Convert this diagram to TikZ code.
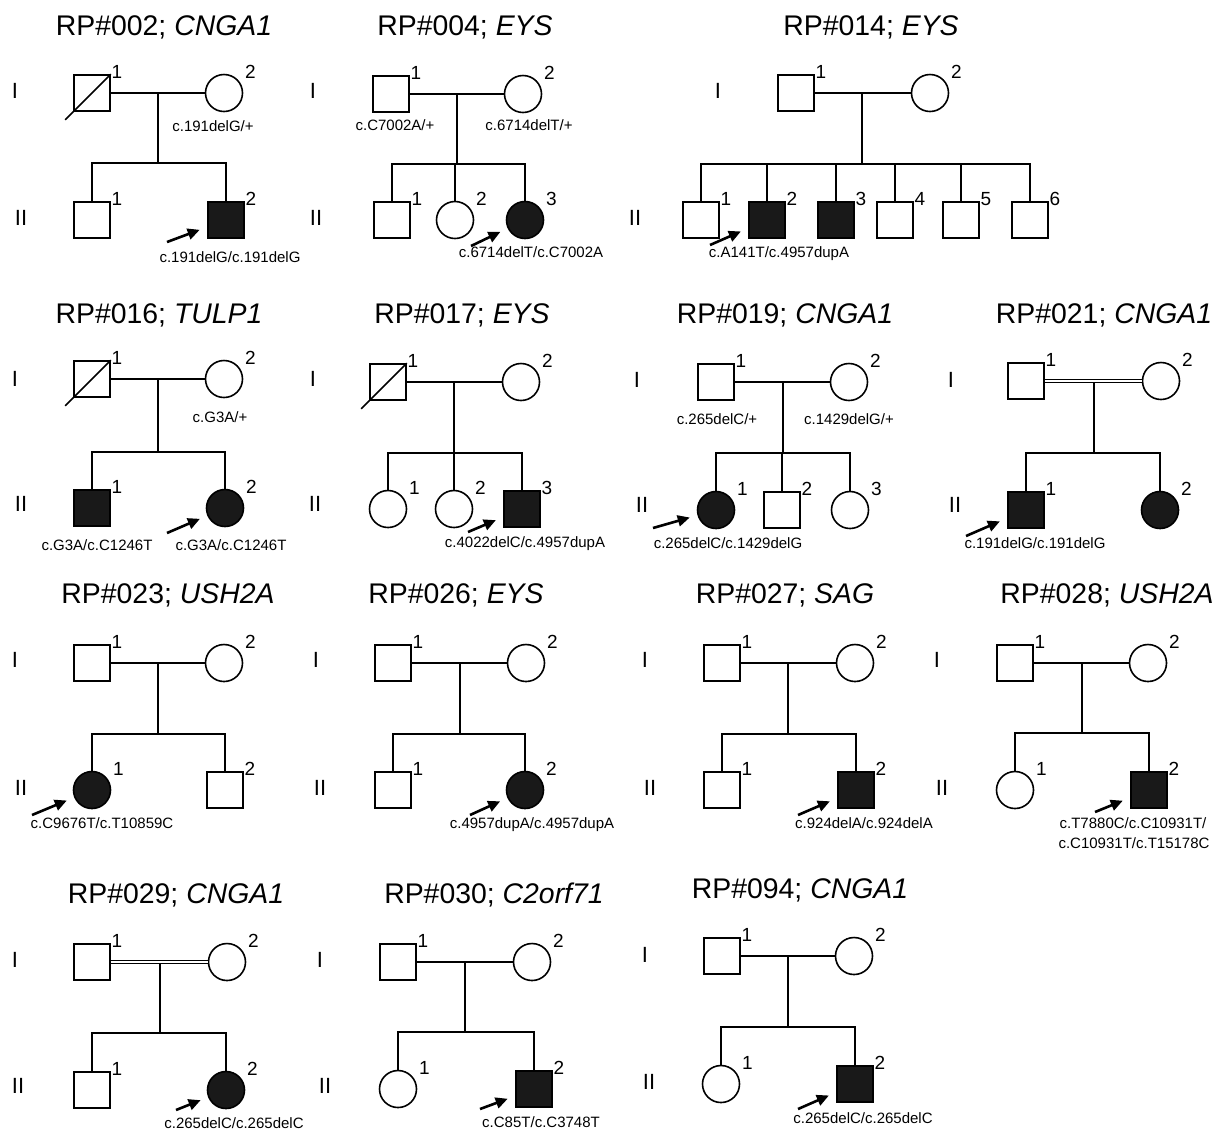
\documentclass[tikz,border=0pt]{standalone}
\usepackage{fontspec}
\setmainfont{Liberation Sans}
\usetikzlibrary{arrows.meta}
\tikzset{
    male/.style={draw, rectangle, minimum size=18pt, inner sep=0pt, label={[idx]north east:#1}},
    female/.style={draw, circle, minimum size=18.5pt, inner sep=0pt, label={[idxf]north east:#1}},
    aff/.style={fill=black!90},
    idx/.style={font=\fontsize{9.5}{11}\selectfont, inner sep=0pt, anchor=south west, yshift=-2.5pt},
    idxf/.style={font=\fontsize{9.5}{11}\selectfont, inner sep=0pt, anchor=south west, xshift=3.3pt},
    pedtitle/.style={font=\fontsize{14.2}{17}\selectfont, anchor=base, inner sep=0pt},
    gen/.style={font=\fontsize{11}{13}\selectfont, anchor=base, inner sep=0pt},
    geno/.style={font=\fontsize{7.5}{9}\selectfont, anchor=base, inner sep=0pt},
    proband/.style={-{Triangle[length=6pt,width=5.5pt]}, line width=1.3pt, shorten >=4pt},
    consang/.style={double, double distance=1.3pt, line width=0.5pt},
}
\begin{document}
\begin{tikzpicture}[x=0.5pt, y=-0.5pt, line width=0.8pt]
    \useasboundingbox (0,0) rectangle (1218,1132);

    \node (t002) [pedtitle] at (164,35) {RP\#002; \textit{CNGA1}};
    \node (g002a) [gen] at (15,98) {I};
    \node (g002b) [gen] at (21,225) {II};
    \node (p002i1) [male=1] at (92,93) {};
    \node (p002i2) [female=2] at (224,93) {};
    \node (p002ii1) [male=1] at (92,220) {};
    \node (p002ii2) [male=2, aff] at (226,220) {};
    \node (p002i2g) [geno] at (213,131) {c.191delG/+};
    \node (p002ii2g) [geno] at (230,262) {c.191delG/c.191delG};
    \coordinate (p002m) at (158,93);
    \coordinate (p002s) at (158,163);
    \coordinate (p002pb) at (167,242);
    \draw ([shift={(-8,8)}]p002i1.south west) -- (p002i1.north east);
    \draw (p002i1) -- (p002i2);
    \draw (p002m) -- (p002s);
    \draw (p002ii1.north) |- (p002s) -| (p002ii2.north);
    \draw[proband] (p002pb) -- (p002ii2);

    \node (t004) [pedtitle] at (465,35) {RP\#004; \textit{EYS}};
    \node (g004a) [gen] at (313,98) {I};
    \node (g004b) [gen] at (316,225) {II};
    \node (p004i1) [male=1] at (391,94) {};
    \node (p004i2) [female=2] at (523,94) {};
    \node (p004ii1) [male=1] at (392,220) {};
    \node (p004ii2) [female=2] at (455,220) {};
    \node (p004ii3) [female=3, aff] at (525,220) {};
    \node (p004i1g) [geno] at (395,130) {c.C7002A/+};
    \node (p004i2g) [geno] at (529,130) {c.6714delT/+};
    \node (p004ii3g) [geno] at (531,257) {c.6714delT/c.C7002A};
    \coordinate (p004m) at (457,94);
    \coordinate (p004s) at (457,164);
    \coordinate (p004pb) at (471,246);
    \draw (p004i1) -- (p004i2);
    \draw (p004m) -- (p004s);
    \draw (p004ii1.north) |- (p004s) -| (p004ii3.north);
    \draw (p004ii2.north) -- (p004ii2.north |- p004s);
    \draw[proband] (p004pb) -- (p004ii3);

    \node (t014) [pedtitle] at (871,35) {RP\#014; \textit{EYS}};
    \node (g014a) [gen] at (718,98) {I};
    \node (g014b) [gen] at (635,225) {II};
    \node (p014i1) [male=1] at (796,93) {};
    \node (p014i2) [female=2] at (930,93) {};
    \node (p014ii1) [male=1] at (701,220) {};
    \node (p014ii2) [male=2, aff] at (767,220) {};
    \node (p014ii3) [male=3, aff] at (836,220) {};
    \node (p014ii4) [male=4] at (895,220) {};
    \node (p014ii5) [male=5] at (961,220) {};
    \node (p014ii6) [male=6] at (1030,220) {};
    \node (p014ii2g) [geno] at (779,257) {c.A141T/c.4957dupA};
    \coordinate (p014m) at (862,93);
    \coordinate (p014s) at (862,164);
    \coordinate (p014pb) at (710,245);
    \draw (p014i1) -- (p014i2);
    \draw (p014m) -- (p014s);
    \draw (p014ii1.north) |- (p014s) -| (p014ii6.north);
    \draw (p014ii2.north) -- (p014ii2.north |- p014s);
    \draw (p014ii3.north) -- (p014ii3.north |- p014s);
    \draw (p014ii4.north) -- (p014ii4.north |- p014s);
    \draw (p014ii5.north) -- (p014ii5.north |- p014s);
    \draw[proband] (p014pb) -- (p014ii2);

    \node (t016) [pedtitle] at (159,323) {RP\#016; \textit{TULP1}};
    \node (g016a) [gen] at (15,386) {I};
    \node (g016b) [gen] at (21,511) {II};
    \node (p016i1) [male=1] at (92,379) {};
    \node (p016i2) [female=2] at (224,379) {};
    \node (p016ii1) [male=1, aff] at (92,508) {};
    \node (p016ii2) [female=2, aff] at (225,508) {};
    \node (p016i2g) [geno] at (220,422) {c.G3A/+};
    \node (p016ii1g) [geno] at (97,550) {c.G3A/c.C1246T};
    \node (p016ii2g) [geno] at (231,550) {c.G3A/c.C1246T};
    \coordinate (p016m) at (158,379);
    \coordinate (p016s) at (158,452);
    \coordinate (p016pb) at (167,533);
    \draw ([shift={(-8,8)}]p016i1.south west) -- (p016i1.north east);
    \draw (p016i1) -- (p016i2);
    \draw (p016m) -- (p016s);
    \draw (p016ii1.north) |- (p016s) -| (p016ii2.north);
    \draw[proband] (p016pb) -- (p016ii2);

    \node (t017) [pedtitle] at (462,323) {RP\#017; \textit{EYS}};
    \node (g017a) [gen] at (313,386) {I};
    \node (g017b) [gen] at (315,511) {II};
    \node (p017i1) [male=1] at (388,382) {};
    \node (p017i2) [female=2] at (521,382) {};
    \node (p017ii1) [female=1] at (388,509) {};
    \node (p017ii2) [female=2] at (454,509) {};
    \node (p017ii3) [male=3, aff] at (522,509) {};
    \node (p017ii3g) [geno] at (525,547) {c.4022delC/c.4957dupA};
    \coordinate (p017m) at (454,382);
    \coordinate (p017s) at (454,453);
    \coordinate (p017pb) at (468,532);
    \draw ([shift={(-8,8)}]p017i1.south west) -- (p017i1.north east);
    \draw (p017i1) -- (p017i2);
    \draw (p017m) -- (p017s);
    \draw (p017ii1.north) |- (p017s) -| (p017ii3.north);
    \draw (p017ii2.north) -- (p017ii2.north |- p017s);
    \draw[proband] (p017pb) -- (p017ii3);

    \node (t019) [pedtitle] at (785,323) {RP\#019; \textit{CNGA1}};
    \node (g019a) [gen] at (637,387) {I};
    \node (g019b) [gen] at (642,512) {II};
    \node (p019i1) [male=1] at (716,382) {};
    \node (p019i2) [female=2] at (849,382) {};
    \node (p019ii1) [female=1, aff] at (716,510) {};
    \node (p019ii2) [male=2] at (782,510) {};
    \node (p019ii3) [female=3] at (850,510) {};
    \node (p019i1g) [geno] at (717,424) {c.265delC/+};
    \node (p019i2g) [geno] at (849,424) {c.1429delG/+};
    \node (p019ii1g) [geno] at (728,548) {c.265delC/c.1429delG};
    \coordinate (p019m) at (783,382);
    \coordinate (p019s) at (783,453);
    \coordinate (p019pb) at (653,528);
    \draw (p019i1) -- (p019i2);
    \draw (p019m) -- (p019s);
    \draw (p019ii1.north) |- (p019s) -| (p019ii3.north);
    \draw (p019ii2.north) -- (p019ii2.north |- p019s);
    \draw[proband] (p019pb) -- (p019ii1);

    \node (t021) [pedtitle] at (1104,323) {RP\#021; \textit{CNGA1}};
    \node (g021a) [gen] at (951,387) {I};
    \node (g021b) [gen] at (955,512) {II};
    \node (p021i1) [male=1] at (1026,381) {};
    \node (p021i2) [female=2] at (1161,381) {};
    \node (p021ii1) [male=1, aff] at (1026,510) {};
    \node (p021ii2) [female=2, aff] at (1160,510) {};
    \node (p021ii1g) [geno] at (1035,548) {c.191delG/c.191delG};
    \coordinate (p021m) at (1094,381);
    \coordinate (p021s) at (1094,453);
    \coordinate (p021pb) at (966,536);
    \draw (p021m) -- (p021s);
    \draw[consang] (p021i1) -- (p021i2);
    \draw (p021ii1.north) |- (p021s) -| (p021ii2.north);
    \draw[proband] (p021pb) -- (p021ii1);

    \node (t023) [pedtitle] at (168,603) {RP\#023; \textit{USH2A}};
    \node (g023a) [gen] at (15,667) {I};
    \node (g023b) [gen] at (21,795) {II};
    \node (p023i1) [male=1] at (92,663) {};
    \node (p023i2) [female=2] at (224,663) {};
    \node (p023ii1) [female=1, aff] at (92,790) {};
    \node (p023ii2) [male=2] at (225,790) {};
    \node (p023ii1g) [geno] at (102,828) {c.C9676T/c.T10859C};
    \coordinate (p023m) at (158,663);
    \coordinate (p023s) at (158,734);
    \coordinate (p023pb) at (32,815);
    \draw (p023i1) -- (p023i2);
    \draw (p023m) -- (p023s);
    \draw (p023ii1.north) |- (p023s) -| (p023ii2.north);
    \draw[proband] (p023pb) -- (p023ii1);

    \node (t026) [pedtitle] at (456,603) {RP\#026; \textit{EYS}};
    \node (g026a) [gen] at (316,667) {I};
    \node (g026b) [gen] at (320,795) {II};
    \node (p026i1) [male=1] at (393,663) {};
    \node (p026i2) [female=2] at (526,663) {};
    \node (p026ii1) [male=1] at (393,790) {};
    \node (p026ii2) [female=2, aff] at (525,790) {};
    \node (p026ii2g) [geno] at (532,828) {c.4957dupA/c.4957dupA};
    \coordinate (p026m) at (460,663);
    \coordinate (p026s) at (460,734);
    \coordinate (p026pb) at (470,815);
    \draw (p026i1) -- (p026i2);
    \draw (p026m) -- (p026s);
    \draw (p026ii1.north) |- (p026s) -| (p026ii2.north);
    \draw[proband] (p026pb) -- (p026ii2);

    \node (t027) [pedtitle] at (785,603) {RP\#027; \textit{SAG}};
    \node (g027a) [gen] at (645,667) {I};
    \node (g027b) [gen] at (650,795) {II};
    \node (p027i1) [male=1] at (722,663) {};
    \node (p027i2) [female=2] at (855,663) {};
    \node (p027ii1) [male=1] at (722,790) {};
    \node (p027ii2) [male=2, aff] at (856,790) {};
    \node (p027ii2g) [geno] at (864,828) {c.924delA/c.924delA};
    \coordinate (p027m) at (788,663);
    \coordinate (p027s) at (788,734);
    \coordinate (p027pb) at (798,815);
    \draw (p027i1) -- (p027i2);
    \draw (p027m) -- (p027s);
    \draw (p027ii1.north) |- (p027s) -| (p027ii2.north);
    \draw[proband] (p027pb) -- (p027ii2);

    \node (t028) [pedtitle] at (1107,603) {RP\#028; \textit{USH2A}};
    \node (g028a) [gen] at (937,667) {I};
    \node (g028b) [gen] at (942,795) {II};
    \node (p028i1) [male=1] at (1015,663) {};
    \node (p028i2) [female=2] at (1148,663) {};
    \node (p028ii1) [female=1] at (1015,790) {};
    \node (p028ii2) [male=2, aff] at (1149,790) {};
    \node (p028ii2g) [geno] at (1133,828) {c.T7880C/c.C10931T/};
    \node (p028ii2h) [geno] at (1134,848) {c.C10931T/c.T15178C};
    \coordinate (p028m) at (1082,663);
    \coordinate (p028s) at (1082,733);
    \coordinate (p028pb) at (1095,812);
    \draw (p028i1) -- (p028i2);
    \draw (p028m) -- (p028s);
    \draw (p028ii1.north) |- (p028s) -| (p028ii2.north);
    \draw[proband] (p028pb) -- (p028ii2);

    \node (t029) [pedtitle] at (176,903) {RP\#029; \textit{CNGA1}};
    \node (g029a) [gen] at (15,967) {I};
    \node (g029b) [gen] at (18,1093) {II};
    \node (p029i1) [male=1] at (92,962) {};
    \node (p029i2) [female=2] at (227,962) {};
    \node (p029ii1) [male=1] at (92,1090) {};
    \node (p029ii2) [female=2, aff] at (226,1090) {};
    \node (p029ii2g) [geno] at (234,1128) {c.265delC/c.265delC};
    \coordinate (p029m) at (160,962);
    \coordinate (p029s) at (160,1033);
    \coordinate (p029pb) at (176,1110);
    \draw (p029m) -- (p029s);
    \draw[consang] (p029i1) -- (p029i2);
    \draw (p029ii1.north) |- (p029s) -| (p029ii2.north);
    \draw[proband] (p029pb) -- (p029ii2);

    \node (t030) [pedtitle] at (494,903) {RP\#030; \textit{C2orf71}};
    \node (g030a) [gen] at (320,967) {I};
    \node (g030b) [gen] at (325,1093) {II};
    \node (p030i1) [male=1] at (398,962) {};
    \node (p030i2) [female=2] at (532,962) {};
    \node (p030ii1) [female=1] at (398,1089) {};
    \node (p030ii2) [male=2, aff] at (534,1089) {};
    \node (p030ii2g) [geno] at (541,1127) {c.C85T/c.C3748T};
    \coordinate (p030m) at (465,962);
    \coordinate (p030s) at (465,1032);
    \coordinate (p030pb) at (480,1109);
    \draw (p030i1) -- (p030i2);
    \draw (p030m) -- (p030s);
    \draw (p030ii1.north) |- (p030s) -| (p030ii2.north);
    \draw[proband] (p030pb) -- (p030ii2);

    \node (t094) [pedtitle] at (800,898) {RP\#094; \textit{CNGA1}};
    \node (g094a) [gen] at (645,962) {I};
    \node (g094b) [gen] at (649,1089) {II};
    \node (p094i1) [male=1] at (722,956) {};
    \node (p094i2) [female=2] at (854,956) {};
    \node (p094ii1) [female=1] at (721,1084) {};
    \node (p094ii2) [male=2, aff] at (855,1084) {};
    \node (p094ii2g) [geno] at (863,1123) {c.265delC/c.265delC};
    \coordinate (p094m) at (788,956);
    \coordinate (p094s) at (788,1027);
    \coordinate (p094pb) at (798,1109);
    \draw (p094i1) -- (p094i2);
    \draw (p094m) -- (p094s);
    \draw (p094ii1.north) |- (p094s) -| (p094ii2.north);
    \draw[proband] (p094pb) -- (p094ii2);
\end{tikzpicture}
\end{document}
